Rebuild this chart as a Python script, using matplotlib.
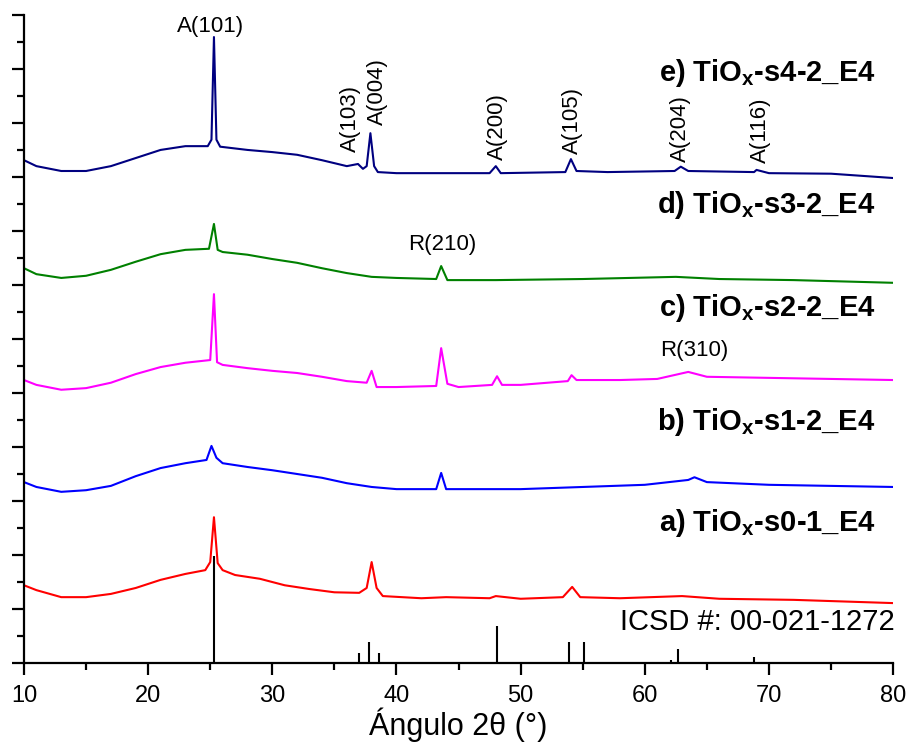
import matplotlib
matplotlib.use("Agg")
import matplotlib.pyplot as plt
from matplotlib.ticker import MultipleLocator

plt.rcParams['font.family'] = ['Liberation Sans', 'DejaVu Sans']
plt.rcParams['mathtext.fontset'] = 'custom'
plt.rcParams['mathtext.rm'] = 'Liberation Sans'
plt.rcParams['mathtext.bf'] = 'Liberation Sans:bold'

# XRD patterns (already stacked with offsets, arbitrary units)
x_e = [10, 11, 13, 15, 17, 19, 21, 23, 24.8, 25.1, 25.3, 25.5, 25.8, 28, 30, 32, 34, 36, 36.9, 37.3,
       37.6, 37.9, 38.2, 38.5, 40, 44, 47.5, 48.0, 48.4, 53.6, 54.05, 54.5, 57, 62.4, 62.9, 63.5,
       68.8, 69, 70, 75, 80]
y_e = [9.31, 9.20, 9.11, 9.11, 9.20, 9.35, 9.50, 9.57, 9.57, 9.69, 11.59, 9.69, 9.56, 9.50, 9.46,
       9.41, 9.31, 9.20, 9.24, 9.15, 9.20, 9.81, 9.20, 9.09, 9.07, 9.07, 9.07, 9.20, 9.07, 9.09,
       9.33, 9.11, 9.09, 9.11, 9.19, 9.11, 9.09, 9.13, 9.07, 9.06, 8.98]

x_d = [10, 11, 13, 15, 17, 19, 21, 23, 24.9, 25.3, 25.6, 26, 28, 30, 32, 34, 36, 38, 40, 43.2,
       43.6, 44.1, 48, 55, 62.5, 66, 72, 80]
y_d = [7.31, 7.20, 7.13, 7.17, 7.28, 7.43, 7.57, 7.65, 7.67, 8.13, 7.65, 7.61, 7.56, 7.48, 7.41,
       7.31, 7.22, 7.15, 7.13, 7.11, 7.35, 7.09, 7.09, 7.11, 7.15, 7.11, 7.09, 7.04]

x_c = [10, 11, 13, 15, 17, 19, 21, 23, 25.0, 25.3, 25.55, 26, 28, 30, 32, 34, 36, 37.6, 38.0, 38.4,
       40, 43.2, 43.6, 44.1, 45, 47.7, 48.1, 48.5, 50, 53.8, 54.1, 54.5, 58, 61, 63.5, 65, 70, 75, 80]
y_c = [5.24, 5.15, 5.06, 5.09, 5.19, 5.35, 5.48, 5.56, 5.61, 6.83, 5.57, 5.52, 5.46, 5.41, 5.37,
       5.30, 5.22, 5.19, 5.41, 5.11, 5.11, 5.13, 5.83, 5.17, 5.11, 5.15, 5.31, 5.15, 5.15, 5.22,
       5.33, 5.24, 5.24, 5.26, 5.39, 5.30, 5.28, 5.26, 5.24]

x_b = [10, 11, 13, 15, 17, 19, 21, 23, 24.7, 25.1, 25.5, 26, 28, 30, 32, 34, 36, 38, 40, 43.2,
       43.6, 44, 50, 55, 60, 63.5, 64, 65, 70, 80]
y_b = [3.35, 3.26, 3.17, 3.20, 3.28, 3.46, 3.61, 3.70, 3.76, 4.02, 3.80, 3.70, 3.63, 3.57, 3.50,
       3.43, 3.33, 3.26, 3.22, 3.22, 3.52, 3.22, 3.22, 3.26, 3.30, 3.39, 3.44, 3.35, 3.30, 3.26]

x_a = [10, 11, 13, 15, 17, 19, 21, 23, 24.6, 25.0, 25.3, 25.6, 26.0, 27, 29, 31, 33, 35, 37, 37.6,
       38.0, 38.4, 38.9, 42, 44, 47.5, 48, 50, 53.4, 54.15, 54.8, 58, 63, 66, 72, 80]
y_a = [1.44, 1.35, 1.22, 1.22, 1.28, 1.39, 1.54, 1.65, 1.72, 1.87, 2.70, 1.85, 1.72, 1.63, 1.56,
       1.44, 1.37, 1.31, 1.30, 1.39, 1.87, 1.39, 1.24, 1.20, 1.22, 1.20, 1.24, 1.19, 1.22, 1.41,
       1.22, 1.20, 1.24, 1.19, 1.17, 1.11]

# ICSD 00-021-1272 reference sticks
icsd_pos = [25.3, 37.0, 37.8, 38.6, 48.1, 53.9, 55.1, 62.1, 62.7, 68.8]
icsd_int = [1.98, 0.19, 0.39, 0.19, 0.69, 0.39, 0.39, 0.06, 0.26, 0.11]

series = [(x_e, y_e, '#000080'), (x_d, y_d, '#008000'), (x_c, y_c, '#FF00FF'),
          (x_b, y_b, '#0000FF'), (x_a, y_a, '#FF0000')]

sample_names = [r'e) TiO$_{\mathbf{x}}$-s4-2_E4', r'd) TiO$_{\mathbf{x}}$-s3-2_E4',
                r'c) TiO$_{\mathbf{x}}$-s2-2_E4', r'b) TiO$_{\mathbf{x}}$-s1-2_E4',
                r'a) TiO$_{\mathbf{x}}$-s0-1_E4']
sample_label_y = [10.93, 8.48, 6.57, 4.46, 2.59]

peak_labels = ['A(103)', 'A(004)', 'A(200)', 'A(105)', 'A(204)', 'A(116)']
peak_label_x = [36.3, 38.5, 48.1, 54.2, 62.85, 69.3]
peak_label_y = [9.46, 9.96, 9.31, 9.43, 9.28, 9.26]

fig = plt.figure(figsize=(9.12, 7.45), dpi=100)
ax = fig.add_axes([0.0263, 0.110, 0.953, 0.870])

for xs, ys, c in series:
    ax.plot(xs, ys, color=c, lw=1.5)

ax.vlines(icsd_pos, 0, icsd_int, color='black', lw=1.5)

for name, yy in zip(sample_names, sample_label_y):
    ax.text(78.6, yy, name, ha='right', va='center', fontsize=21, fontweight='bold')

ax.text(80.1, 0.76, 'ICSD #: 00-021-1272', ha='right', va='center', fontsize=21)
ax.text(25.06, 11.78, 'A(101)', ha='center', va='center', fontsize=16)
for lab, xx, yy in zip(peak_labels, peak_label_x, peak_label_y):
    ax.text(xx, yy, lab, rotation=90, ha='center', va='bottom', fontsize=16)
ax.text(43.7, 7.74, 'R(210)', ha='center', va='center', fontsize=16)
ax.text(64.0, 5.78, 'R(310)', ha='center', va='center', fontsize=16)

ax.set_xlim(10, 80)
ax.set_ylim(0, 12)
ax.spines['top'].set_visible(False)
ax.spines['right'].set_visible(False)
ax.spines['left'].set_linewidth(1.6)
ax.spines['bottom'].set_linewidth(1.6)
ax.xaxis.set_major_locator(MultipleLocator(10))
ax.xaxis.set_minor_locator(MultipleLocator(5))
ax.yaxis.set_major_locator(MultipleLocator(1))
ax.yaxis.set_minor_locator(MultipleLocator(0.5))
ax.tick_params(which='major', direction='out', length=8.5, width=1.6, labelsize=17, pad=7)
ax.tick_params(which='minor', direction='out', length=5, width=1.6)
ax.tick_params(axis='y', labelleft=False)
ax.set_xlabel('Ángulo 2θ (°)', fontsize=22, labelpad=1)

fig.savefig('out.png', dpi=100)
